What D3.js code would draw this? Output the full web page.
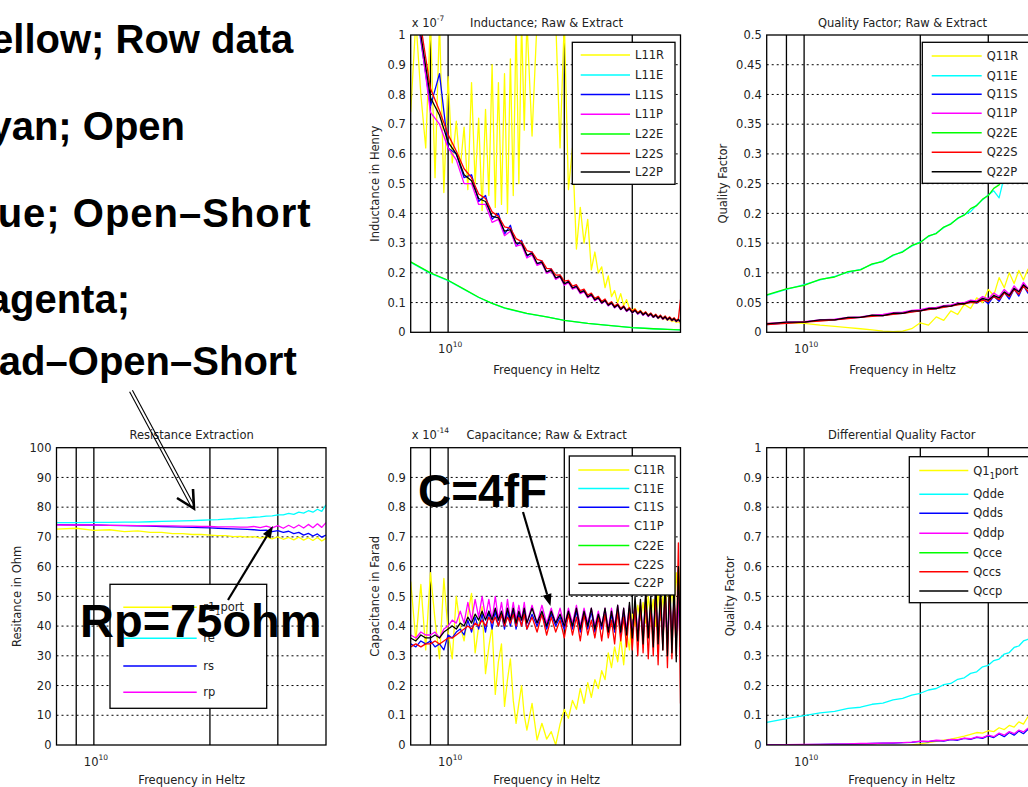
<!DOCTYPE html>
<html>
<head>
<meta charset="utf-8">
<script src="https://cdn.jsdelivr.net/npm/d3@7"></script>
<style>
  body { margin: 0; background: #fff; }
  svg text { font-family: "DejaVu Sans", sans-serif; }
  .big { font-family: "Liberation Sans", Arial, sans-serif; font-weight: bold; }
</style>
</head>
<body>
<svg id="slide" width="1028" height="787"></svg>
<script>
// ---------------- data (frequency in GHz) ----------------
var freqFine = [8, 8.25, 8.5, 8.75, 9, 9.25, 9.5, 9.75, 10, 10.25, 10.5, 10.75, 11, 11.25, 11.5, 11.75,
  12, 12.25, 12.5, 12.75, 13, 13.25, 13.5, 13.75, 14, 14.25, 14.5, 14.75, 15, 15.25, 15.5, 15.75, 16,
  16.5, 17, 17.5, 18, 18.5, 19, 19.5, 20, 20.5, 21, 21.5, 22, 22.5, 23, 23.5, 24, 24.5, 25, 25.5,
  26, 26.5, 27, 27.5, 28, 28.5, 29, 29.5, 30, 30.5, 31, 31.5, 32, 32.5, 33, 33.5, 34, 34.5, 35, 35.5,
  36, 36.5, 37, 37.5, 38, 38.5, 39, 39.5, 40];
var freqHalf = [8, 8.5, 9, 9.5, 10, 10.5, 11, 11.5, 12, 12.5, 13, 13.5, 14, 14.5, 15, 15.5, 16, 16.5,
  17, 17.5, 18, 18.5, 19, 19.5, 20, 20.5, 21, 21.5, 22, 22.5, 23, 23.5, 24, 24.5, 25, 25.5, 26, 26.5,
  27, 27.5, 28, 28.5, 29, 29.5, 30, 30.5, 31, 31.5, 32, 32.5, 33, 33.5, 34, 34.5, 35, 35.5, 36, 36.5,
  37, 37.5, 38, 38.5, 39, 39.5, 40];
var freqStep = [8, 9, 10, 11, 12, 13, 14, 15, 16, 17, 18, 19, 20, 21, 22, 23, 24, 25, 26, 27, 28, 29,
  30, 31, 32, 33, 34, 35, 36, 37, 38, 39, 40];
var freqSmooth = [8, 9, 10, 11, 12, 13, 14, 16, 18, 20, 23, 26, 30, 34, 37, 40];

// Inductance (x 1e-7 H)
var l11r = [0.74, 1.05, 0.80, 0.62, 1.05, 0.52, 1.05, 0.47, 0.86, 0.57, 0.71, 0.55, 0.69, 0.48, 0.84, 0.50,
  0.72, 0.41, 0.75, 0.46, 0.90, 0.42, 0.84, 0.43, 0.87, 0.40, 0.92, 0.46, 1.05, 0.50, 1.05, 0.68, 1.05,
  0.66, 1.05, 1.05, 1.05, 1.05, 1.05, 0.62, 1.05, 0.48, 0.62, 0.28, 0.42, 0.30, 0.38, 0.21, 0.27, 0.20,
  0.22, 0.15, 0.19, 0.12, 0.14, 0.10, 0.13, 0.09, 0.11, 0.08, 0.075, 0.08, 0.065, 0.074, 0.06, 0.067,
  0.055, 0.062, 0.05, 0.056, 0.046, 0.051, 0.043, 0.047, 0.04, 0.043, 0.036, 0.04, 0.033, 0.036, 0.03];
var l11e = [0.235, 0.198, 0.174, 0.144, 0.117, 0.097, 0.081, 0.063, 0.052, 0.04, 0.03, 0.023, 0.016, 0.012, 0.01, 0.008];
var l11s = [1.22, 0.98, 0.76, 0.87, 0.62, 0.60, 0.52, 0.53, 0.44, 0.46, 0.38, 0.40, 0.33, 0.36, 0.29, 0.31,
  0.255, 0.27, 0.228, 0.24, 0.20, 0.213, 0.18, 0.192, 0.16, 0.173, 0.147, 0.157, 0.132, 0.142, 0.118, 0.129,
  0.108, 0.118, 0.098, 0.108, 0.09, 0.1, 0.083, 0.093, 0.077, 0.087, 0.071, 0.08, 0.066, 0.075, 0.062, 0.07,
  0.058, 0.066, 0.055, 0.062, 0.051, 0.058, 0.048, 0.055, 0.045, 0.052, 0.042, 0.049, 0.04, 0.046, 0.037,
  0.043, 0.036];
var l11p = [1.24, 0.99, 0.74, 0.70, 0.62, 0.58, 0.50, 0.50, 0.43, 0.43, 0.37, 0.38, 0.325, 0.34, 0.29, 0.295,
  0.25, 0.26, 0.225, 0.232, 0.198, 0.206, 0.178, 0.186, 0.158, 0.167, 0.145, 0.151, 0.13, 0.137, 0.116, 0.125,
  0.106, 0.114, 0.097, 0.105, 0.089, 0.097, 0.082, 0.09, 0.076, 0.084, 0.07, 0.078, 0.065, 0.073, 0.061, 0.068,
  0.057, 0.064, 0.053, 0.06, 0.05, 0.056, 0.047, 0.053, 0.044, 0.05, 0.041, 0.047, 0.039, 0.044, 0.036,
  0.041, 0.034];
var l22e = [0.237, 0.20, 0.175, 0.145, 0.118, 0.097, 0.082, 0.064, 0.052, 0.04, 0.03, 0.023, 0.016, 0.012, 0.01, 0.008];
var l22s = [1.28, 1.03, 0.82, 0.745, 0.665, 0.61, 0.55, 0.52, 0.465, 0.45, 0.405, 0.39, 0.355, 0.35, 0.315, 0.305,
  0.275, 0.27, 0.245, 0.24, 0.215, 0.213, 0.192, 0.193, 0.172, 0.175, 0.155, 0.16, 0.14, 0.145, 0.125, 0.132,
  0.114, 0.121, 0.104, 0.112, 0.095, 0.103, 0.088, 0.096, 0.081, 0.089, 0.075, 0.083, 0.07, 0.078, 0.066, 0.073,
  0.062, 0.069, 0.058, 0.065, 0.054, 0.061, 0.051, 0.058, 0.048, 0.055, 0.045, 0.052, 0.043, 0.049, 0.04,
  0.046, 0.11];
var l22p = [1.25, 1.0, 0.79, 0.73, 0.64, 0.60, 0.53, 0.51, 0.45, 0.44, 0.39, 0.385, 0.34, 0.345, 0.30, 0.30,
  0.26, 0.265, 0.232, 0.235, 0.203, 0.209, 0.183, 0.188, 0.163, 0.17, 0.149, 0.154, 0.134, 0.139, 0.119, 0.127,
  0.109, 0.116, 0.099, 0.107, 0.091, 0.099, 0.084, 0.092, 0.077, 0.086, 0.072, 0.079, 0.066, 0.074, 0.063, 0.07,
  0.059, 0.066, 0.055, 0.062, 0.051, 0.058, 0.048, 0.055, 0.045, 0.052, 0.042, 0.049, 0.04, 0.046, 0.037,
  0.043, 0.035];

// Quality factor
var q11r = [0.015, 0.016, 0.015, 0.012, 0.010, 0.008, 0.006, 0.004, 0.002, 0.001, 0.002, 0.006, 0.016, 0.012,
  0.026, 0.020, 0.036, 0.030, 0.047, 0.040, 0.058, 0.050, 0.072, 0.062, 0.092, 0.075, 0.100, 0.082, 0.104,
  0.088, 0.106, 0.092, 0.10];
var q11e = [0.062, 0.072, 0.080, 0.088, 0.094, 0.101, 0.106, 0.114, 0.120, 0.129, 0.136, 0.145, 0.152, 0.161,
  0.167, 0.176, 0.183, 0.191, 0.198, 0.203, 0.214, 0.223, 0.231, 0.238, 0.226, 0.262, 0.255, 0.28, 0.27,
  0.298, 0.29, 0.316, 0.31];
var q11s = [0.013, 0.016, 0.017, 0.020, 0.021, 0.024, 0.025, 0.028, 0.028, 0.031, 0.032, 0.035, 0.036, 0.039,
  0.040, 0.043, 0.044, 0.047, 0.048, 0.051, 0.049, 0.056, 0.048, 0.061, 0.052, 0.067, 0.056, 0.073, 0.061,
  0.079, 0.066, 0.085, 0.07];
var q11p = [0.015, 0.017, 0.018, 0.021, 0.022, 0.025, 0.026, 0.029, 0.030, 0.033, 0.034, 0.037, 0.038, 0.041,
  0.042, 0.045, 0.046, 0.049, 0.05, 0.054, 0.053, 0.06, 0.056, 0.066, 0.06, 0.072, 0.064, 0.078, 0.069,
  0.084, 0.074, 0.09, 0.079];
var q22e = [0.063, 0.073, 0.079, 0.089, 0.093, 0.102, 0.105, 0.115, 0.119, 0.130, 0.135, 0.146, 0.151, 0.162,
  0.166, 0.177, 0.182, 0.192, 0.197, 0.208, 0.213, 0.224, 0.230, 0.242, 0.248, 0.260, 0.266, 0.278, 0.284,
  0.296, 0.302, 0.314, 0.320];
var q22s = [0.013, 0.015, 0.017, 0.019, 0.021, 0.023, 0.025, 0.027, 0.028, 0.030, 0.032, 0.034, 0.036, 0.038,
  0.040, 0.042, 0.044, 0.046, 0.048, 0.050, 0.050, 0.054, 0.052, 0.060, 0.055, 0.066, 0.060, 0.072, 0.064,
  0.078, 0.069, 0.083, 0.074];
var q22p = [0.014, 0.017, 0.017, 0.021, 0.021, 0.025, 0.025, 0.029, 0.028, 0.032, 0.032, 0.036, 0.036, 0.040,
  0.040, 0.044, 0.044, 0.048, 0.048, 0.052, 0.051, 0.057, 0.054, 0.062, 0.058, 0.068, 0.062, 0.074, 0.068,
  0.080, 0.073, 0.086, 0.080];

// Resistance (Ohm)
var rPort = [72.6, 72.9, 72.2, 72.4, 71.8, 72.0, 71.5, 71.5, 71.1, 71.1, 70.8, 70.8, 70.6, 70.4, 70.4, 70.1,
  70.2, 69.9, 70.1, 69.6, 70.0, 69.3, 70.0, 69.2, 69.8, 69.0, 69.9, 68.9, 69.7, 68.8, 69.8, 68.6, 69.5];
var rE = [74.8, 74.8, 74.9, 74.9, 75.0, 75.0, 75.1, 75.2, 75.3, 75.4, 75.5, 75.6, 75.7, 75.8, 76.0, 76.1,
  76.3, 76.4, 76.6, 76.7, 77.0, 77.1, 77.4, 77.4, 77.9, 77.6, 78.3, 78.0, 78.8, 78.3, 79.3, 78.6, 80.8];
var rS = [74.1, 74.0, 74.0, 73.9, 73.8, 73.7, 73.6, 73.5, 73.4, 73.3, 73.2, 73.1, 73.0, 72.9, 72.8, 72.7,
  72.6, 72.5, 72.4, 72.2, 72.3, 71.8, 72.1, 71.5, 71.9, 71.1, 71.5, 70.6, 71.2, 70.3, 71.0, 69.9, 70.6];
var rP = [74.0, 74.0, 74.0, 73.9, 73.9, 73.8, 73.8, 73.7, 73.7, 73.6, 73.6, 73.5, 73.5, 73.4, 73.4, 73.4,
  73.3, 73.3, 73.5, 73.1, 73.6, 73.0, 73.8, 72.9, 73.9, 73.0, 74.0, 73.0, 74.2, 73.1, 74.4, 73.2, 74.8];

// Capacitance (x 1e-14 F)
var c11r = [0.55, 0.35, 0.54, 0.32, 0.58, 0.42, 0.29, 0.56, 0.38, 0.29, 0.50, 0.40, 0.35, 0.44, 0.51, 0.31,
  0.40, 0.465, 0.24, 0.33, 0.40, 0.17, 0.28, 0.34, 0.13, 0.22, 0.29, 0.15, 0.073, 0.14, 0.20, 0.10, 0.05,
  0.14, 0.017, 0.073, 0.02, 0.045, 0.0, 0.07, 0.12, 0.09, 0.15, 0.12, 0.19, 0.14, 0.21, 0.16, 0.22, 0.19,
  0.25, 0.22, 0.31, 0.26, 0.33, 0.28, 0.36, 0.27, 0.38, 0.32, 0.44, 0.40, 0.47, 0.42, 0.48, 0.41, 0.50,
  0.43, 0.49, 0.40, 0.52, 0.42, 0.50, 0.44, 0.55, 0.45, 0.52, 0.46, 0.58, 0.48, 0.60];
var c11e = [];
var c11s = [0.34, 0.33, 0.35, 0.34, 0.35, 0.33, 0.34, 0.32, 0.37, 0.36, 0.38, 0.39, 0.37, 0.42, 0.38, 0.43,
  0.39, 0.44, 0.38, 0.45, 0.39, 0.45, 0.40, 0.44, 0.39, 0.45, 0.40, 0.45, 0.39, 0.44, 0.40, 0.45, 0.39,
  0.44, 0.40, 0.44, 0.39, 0.44, 0.40, 0.43, 0.39, 0.44, 0.39, 0.45, 0.38, 0.44, 0.39, 0.45, 0.38, 0.43,
  0.39, 0.45, 0.38, 0.44, 0.38, 0.45, 0.37, 0.44, 0.38, 0.45, 0.37, 0.47, 0.36, 0.46, 0.36, 0.48, 0.37,
  0.46, 0.36, 0.49, 0.36, 0.48, 0.35, 0.50, 0.34, 0.49, 0.36, 0.48, 0.35, 0.50, 0.30];
var c11p = [0.37, 0.36, 0.38, 0.37, 0.37, 0.38, 0.36, 0.39, 0.40, 0.42, 0.41, 0.45, 0.41, 0.48, 0.42, 0.49,
  0.43, 0.50, 0.43, 0.49, 0.42, 0.50, 0.42, 0.48, 0.41, 0.49, 0.42, 0.48, 0.42, 0.47, 0.42, 0.48, 0.41,
  0.47, 0.41, 0.47, 0.41, 0.46, 0.41, 0.46, 0.40, 0.46, 0.41, 0.47, 0.40, 0.46, 0.41, 0.46, 0.40, 0.45,
  0.40, 0.46, 0.39, 0.46, 0.40, 0.47, 0.39, 0.46, 0.39, 0.47, 0.38, 0.48, 0.38, 0.47, 0.37, 0.49, 0.38,
  0.47, 0.37, 0.50, 0.37, 0.49, 0.36, 0.51, 0.35, 0.50, 0.37, 0.49, 0.36, 0.52, 0.28];
var c22e = [];
var c22s = [0.33, 0.34, 0.33, 0.34, 0.34, 0.35, 0.34, 0.35, 0.36, 0.36, 0.37, 0.38, 0.39, 0.40, 0.39, 0.41,
  0.40, 0.42, 0.40, 0.43, 0.41, 0.43, 0.40, 0.44, 0.40, 0.43, 0.41, 0.44, 0.40, 0.43, 0.40, 0.44, 0.39,
  0.43, 0.38, 0.44, 0.37, 0.43, 0.38, 0.42, 0.36, 0.44, 0.37, 0.43, 0.35, 0.44, 0.37, 0.42, 0.36, 0.43,
  0.35, 0.44, 0.36, 0.42, 0.34, 0.45, 0.35, 0.43, 0.33, 0.46, 0.32, 0.47, 0.30, 0.48, 0.31, 0.50, 0.29,
  0.47, 0.30, 0.52, 0.27, 0.50, 0.32, 0.53, 0.26, 0.55, 0.29, 0.50, 0.30, 0.68, 0.14];
var c22p = [0.36, 0.35, 0.37, 0.36, 0.36, 0.37, 0.36, 0.38, 0.39, 0.40, 0.39, 0.41, 0.40, 0.43, 0.41, 0.44,
  0.42, 0.45, 0.42, 0.45, 0.42, 0.46, 0.42, 0.45, 0.41, 0.46, 0.42, 0.46, 0.41, 0.45, 0.42, 0.46, 0.41,
  0.46, 0.41, 0.45, 0.40, 0.45, 0.41, 0.44, 0.40, 0.45, 0.40, 0.46, 0.39, 0.45, 0.40, 0.46, 0.39, 0.44,
  0.40, 0.46, 0.38, 0.45, 0.39, 0.47, 0.38, 0.46, 0.37, 0.48, 0.36, 0.50, 0.35, 0.49, 0.34, 0.52, 0.36,
  0.50, 0.33, 0.55, 0.34, 0.53, 0.32, 0.56, 0.30, 0.58, 0.31, 0.55, 0.28, 0.60, 0.33];

// Differential quality factor
var q1port = [-0.05, -0.045, -0.04, -0.035, -0.03, -0.025, -0.02, -0.015, -0.012, -0.008, -0.004, 0.0, 0.004,
  0.008, 0.012, 0.016, 0.02, 0.025, 0.03, 0.036, 0.042, 0.04, 0.048, 0.045, 0.058, 0.052, 0.066, 0.06,
  0.078, 0.07, 0.095, 0.085, 0.11];
var qdde = [0.076, 0.089, 0.099, 0.108, 0.113, 0.123, 0.127, 0.137, 0.141, 0.152, 0.157, 0.168, 0.174, 0.185,
  0.190, 0.203, 0.207, 0.221, 0.226, 0.241, 0.246, 0.263, 0.268, 0.284, 0.289, 0.306, 0.311, 0.328, 0.333,
  0.350, 0.355, 0.373, 0.377];
var qdds = [0.0, 0.001, 0.001, 0.002, 0.003, 0.003, 0.004, 0.005, 0.006, 0.006, 0.008, 0.009, 0.012, 0.011,
  0.015, 0.013, 0.018, 0.016, 0.022, 0.019, 0.026, 0.022, 0.031, 0.025, 0.037, 0.028, 0.042, 0.033, 0.047,
  0.038, 0.052, 0.042, 0.056];
var qddp = [0.0, 0.001, 0.002, 0.002, 0.003, 0.004, 0.005, 0.005, 0.006, 0.007, 0.008, 0.010, 0.013, 0.012,
  0.016, 0.015, 0.019, 0.018, 0.023, 0.021, 0.027, 0.025, 0.033, 0.028, 0.040, 0.033, 0.045, 0.038, 0.050,
  0.044, 0.056, 0.048, 0.06];
var qcce = [], qccs = [], qccp = [];

// matlab default line colors
var yellow = '#ffff00', cyan = '#00ffff', blue = '#0000ff', magenta = '#ff00ff',
  green = '#00ff00', red = '#ff0000', black = '#000000';

var ticks01 = [0, 0.1, 0.2, 0.3, 0.4, 0.5, 0.6, 0.7, 0.8, 0.9, 1];
var ticksQ = [0, 0.05, 0.1, 0.15, 0.2, 0.25, 0.3, 0.35, 0.4, 0.45, 0.5];
var ticksR = [0, 10, 20, 30, 40, 50, 60, 70, 80, 90, 100];
var ticksC = [0, 0.1, 0.2, 0.3, 0.4, 0.5, 0.6, 0.7, 0.8, 0.9];
var minorGrid = [9, 10, 20, 30];

var panels = [
  {
    id: 'ind', left: 410.7, right: 680.5, top: 35, bottom: 332.3, yMax: 1, yTicks: ticks01, xlabelY: 373.8,
    title: 'Inductance; Raw & Extract', titleX: 546.5, exponent: '-7', ylabel: 'Inductance in Henry', ylabelX: 375,
    legend: {x: 572.3, y: 42.3, w: 102.7, h: 142, rows: [55, 75, 94.5, 114.3, 134, 153.5, 172], lx1: 580.7, lx2: 630, tx: 635},
    series: [
      {name: 'L11R', color: yellow, f: freqFine, v: l11r},
      {name: 'L11E', color: cyan, f: freqSmooth, v: l11e},
      {name: 'L11S', color: blue, f: freqHalf, v: l11s},
      {name: 'L11P', color: magenta, f: freqHalf, v: l11p},
      {name: 'L22E', color: green, f: freqSmooth, v: l22e},
      {name: 'L22S', color: red, f: freqHalf, v: l22s},
      {name: 'L22P', color: black, f: freqHalf, v: l22p}
    ]
  },
  {
    id: 'qf', left: 766.7, right: 1036.5, top: 35, bottom: 332.3, yMax: 0.5, yTicks: ticksQ, xlabelY: 373.8,
    title: 'Quality Factor; Raw & Extract', titleX: 902.5, ylabel: 'Quality Factor', ylabelX: 723,
    legend: {x: 922.3, y: 42.3, w: 130, h: 141, rows: [56, 75.7, 94.3, 113.3, 132.7, 152.3, 171.7], lx1: 931.7, lx2: 981.7, tx: 986.7},
    series: [
      {name: 'Q11R', color: yellow, f: freqStep, v: q11r},
      {name: 'Q11E', color: cyan, f: freqStep, v: q11e},
      {name: 'Q11S', color: blue, f: freqStep, v: q11s},
      {name: 'Q11P', color: magenta, f: freqStep, v: q11p},
      {name: 'Q22E', color: green, f: freqStep, v: q22e},
      {name: 'Q22S', color: red, f: freqStep, v: q22s},
      {name: 'Q22P', color: black, f: freqStep, v: q22p}
    ]
  },
  {
    id: 'res', left: 56.5, right: 326, top: 447.7, bottom: 745, yMax: 100, yTicks: ticksR, xlabelY: 783.5,
    title: 'Resistance Extraction', titleX: 191.7, ylabel: 'Resitance in Ohm', ylabelX: 17,
    legend: {x: 110, y: 584.3, w: 156.7, h: 124, rows: [607.3, 638.3, 666, 692.3], lx1: 123.3, lx2: 196.7, tx: 203.3},
    series: [
      {name: 'r1', sub: '1', tail: 'port', color: yellow, f: freqStep, v: rPort},
      {name: 're', color: cyan, f: freqStep, v: rE},
      {name: 'rs', color: blue, f: freqStep, v: rS},
      {name: 'rp', color: magenta, f: freqStep, v: rP}
    ]
  },
  {
    id: 'cap', left: 410.7, right: 680.5, top: 447.7, bottom: 745, yMax: 1, yTicks: ticksC, xlabelY: 783.5,
    title: 'Capacitance; Raw & Extract', titleX: 546.7, exponent: '-14', ylabel: 'Capacitance in Farad', ylabelX: 375,
    legend: {x: 569.3, y: 456, w: 105.7, h: 139, rows: [470, 488.6, 507.3, 526, 545.5, 564.5, 583.3], lx1: 578.3, lx2: 629.3, tx: 634},
    series: [
      {name: 'C11R', color: yellow, f: freqFine, v: c11r},
      {name: 'C11E', color: cyan, f: freqFine, v: c11e},
      {name: 'C11S', color: blue, f: freqFine, v: c11s},
      {name: 'C11P', color: magenta, f: freqFine, v: c11p},
      {name: 'C22E', color: green, f: freqFine, v: c22e},
      {name: 'C22S', color: red, f: freqFine, v: c22s},
      {name: 'C22P', color: black, f: freqFine, v: c22p}
    ]
  },
  {
    id: 'dq', left: 766.7, right: 1036.5, top: 447.7, bottom: 745, yMax: 1, yTicks: ticks01, xlabelY: 783.5,
    title: 'Differential Quality Factor', titleX: 901.7, ylabel: 'Quality Factor', ylabelX: 730,
    legend: {x: 909.3, y: 456.7, w: 140, h: 146, rows: [470.5, 494.3, 513.3, 533.3, 552.7, 571.7, 591], lx1: 919.3, lx2: 968.3, tx: 973.3},
    series: [
      {name: 'Q1', sub: '1', tail: 'port', color: yellow, f: freqStep, v: q1port},
      {name: 'Qdde', color: cyan, f: freqStep, v: qdde},
      {name: 'Qdds', color: blue, f: freqStep, v: qdds},
      {name: 'Qddp', color: magenta, f: freqStep, v: qddp},
      {name: 'Qcce', color: green, f: freqStep, v: qcce},
      {name: 'Qccs', color: red, f: freqStep, v: qccs},
      {name: 'Qccp', color: black, f: freqStep, v: qccp}
    ]
  }
];

var svg = d3.select('#slide');
var textColor = '#222';

function drawPanel(p) {
  var g = svg.append('g').attr('id', 'panel-' + p.id);
  var x = d3.scaleLog().domain([8, 40]).range([p.left, p.right]);
  var y = d3.scaleLinear().domain([0, p.yMax]).range([p.bottom, p.top]);

  svg.append('clipPath').attr('id', 'clip-' + p.id)
    .append('rect')
    .attr('x', p.left).attr('y', p.top)
    .attr('width', p.right - p.left).attr('height', p.bottom - p.top);

  // dotted horizontal grid
  g.selectAll('line.hgrid')
    .data(p.yTicks.filter(function (t) { return t > 0 && t < p.yMax; }))
    .enter().append('line')
    .attr('class', 'hgrid')
    .attr('x1', p.left).attr('x2', p.right)
    .attr('y1', function (d) { return y(d); }).attr('y2', function (d) { return y(d); })
    .attr('stroke', '#000').attr('stroke-width', 1).attr('stroke-dasharray', '2,3');

  // solid lines at the log grid
  g.selectAll('line.vgrid')
    .data(minorGrid)
    .enter().append('line')
    .attr('class', 'vgrid')
    .attr('x1', function (d) { return x(d); }).attr('x2', function (d) { return x(d); })
    .attr('y1', p.top).attr('y2', p.bottom)
    .attr('stroke', '#000').attr('stroke-width', 1.3);

  // series
  var line = d3.line()
    .x(function (d) { return x(d[0]); })
    .y(function (d) { return y(d[1]); });
  g.append('g').attr('clip-path', 'url(#clip-' + p.id + ')')
    .selectAll('path')
    .data(p.series.filter(function (s) { return s.v.length > 0; }))
    .enter().append('path')
    .attr('d', function (s) { return line(d3.zip(s.f, s.v)); })
    .attr('fill', 'none')
    .attr('stroke', function (s) { return s.color; })
    .attr('stroke-width', 1.3)
    .attr('stroke-linejoin', 'round');

  // frame
  g.append('rect')
    .attr('x', p.left).attr('y', p.top)
    .attr('width', p.right - p.left).attr('height', p.bottom - p.top)
    .attr('fill', 'none').attr('stroke', '#000').attr('stroke-width', 1.3);

  // y tick labels
  var yAxis = d3.axisLeft(y).tickValues(p.yTicks).tickSize(0).tickPadding(5)
    .tickFormat(function (d) { return String(d); });
  var ga = g.append('g').attr('transform', 'translate(' + p.left + ',0)').call(yAxis);
  ga.select('.domain').remove();
  ga.attr('font-family', 'DejaVu Sans').attr('font-size', 11.5);
  ga.selectAll('text').attr('fill', textColor);

  // x axis: only the 10^10 label
  var xt = g.append('text')
    .attr('x', x(10) - 10).attr('y', p.bottom + 20.5)
    .attr('font-size', 11.5).attr('fill', textColor);
  xt.append('tspan').text('10');
  xt.append('tspan').attr('font-size', 7.5).attr('dy', -6).text('10');

  g.append('text')
    .attr('x', p.titleX).attr('y', p.xlabelY)
    .attr('text-anchor', 'middle').attr('font-size', 11.5).attr('fill', textColor)
    .text('Frequency in Heltz');

  // title
  g.append('text')
    .attr('x', p.titleX).attr('y', p.top - 8.5)
    .attr('text-anchor', 'middle').attr('font-size', 11.5).attr('fill', textColor)
    .text(p.title);

  if (p.exponent) {
    var ex = g.append('text')
      .attr('x', p.left + 1).attr('y', p.top - 8.5)
      .attr('font-size', 11.5).attr('fill', textColor);
    ex.append('tspan').text('x 10');
    ex.append('tspan').attr('font-size', 7.5).attr('dy', -6).text(p.exponent);
  }

  // y label
  g.append('text')
    .attr('transform', 'translate(' + p.ylabelX + ',' + ((p.top + p.bottom) / 2) + ') rotate(-90)')
    .attr('text-anchor', 'middle').attr('dy', '0.35em')
    .attr('font-size', 11.5).attr('fill', textColor)
    .text(p.ylabel);

  // legend
  var L = p.legend;
  g.append('rect')
    .attr('x', L.x).attr('y', L.y).attr('width', L.w).attr('height', L.h)
    .attr('fill', '#fff').attr('stroke', '#000').attr('stroke-width', 1.3);
  var rows = g.selectAll('g.legrow')
    .data(p.series)
    .enter().append('g')
    .attr('class', 'legrow')
    .attr('transform', function (s, i) { return 'translate(0,' + L.rows[i] + ')'; });
  rows.append('line')
    .attr('x1', L.lx1).attr('x2', L.lx2)
    .attr('stroke', function (s) { return s.color; }).attr('stroke-width', 1.5);
  var lt = rows.append('text')
    .attr('x', L.tx).attr('dy', '0.36em')
    .attr('font-size', 11.5).attr('fill', textColor);
  lt.append('tspan').text(function (s) { return s.name; });
  lt.filter(function (s) { return s.sub; }).each(function (s) {
    var t = d3.select(this);
    t.append('tspan').attr('font-size', 8).attr('dy', 4).text(s.sub);
    t.append('tspan').attr('dy', -4).text(s.tail);
  });
}

panels.forEach(drawPanel);

// ---------------- slide annotations ----------------
var noteTexts = ['Yellow; Row data', 'Cyan; Open', 'Blue; Open\u2013Short', 'Magenta;', 'Pad\u2013Open\u2013Short'];
// right end / baseline of each line (the slide text is cut by the left edge)
var noteLayout = [[293.3, 52.7, 0], [185, 140, 0], [311.7, 226.7, 1], [130, 313, 0], [296.7, 375, 0]];

svg.selectAll('text.note')
  .data(noteTexts)
  .enter().append('text')
  .attr('class', 'note big')
  .attr('x', function (d, i) { return noteLayout[i][0]; })
  .attr('y', function (d, i) { return noteLayout[i][1]; })
  .attr('letter-spacing', function (d, i) { return noteLayout[i][2]; })
  .attr('text-anchor', 'end')
  .attr('font-size', 40)
  .attr('fill', '#000')
  .text(function (d) { return d; });

// double-line open arrow
var dbl = svg.append('g').attr('stroke', '#000').attr('fill', 'none');
dbl.append('line').attr('x1', 132.4).attr('y1', 390.2).attr('x2', 193.2).attr('y2', 503.6).attr('stroke-width', 1.1);
dbl.append('line').attr('x1', 129.6).attr('y1', 391.8).attr('x2', 190.4).attr('y2', 505.2).attr('stroke-width', 1.1);
dbl.append('polyline').attr('points', '177,498 194,508.5 193,489').attr('stroke-width', 2.6)
  .attr('stroke-linejoin', 'miter');

function arrow(x1, y1, x2, y2) {
  var dx = x2 - x1, dy = y2 - y1, len = Math.sqrt(dx * dx + dy * dy);
  var ux = dx / len, uy = dy / len, hl = 12, hw = 4.5;
  var bx = x2 - ux * hl, by = y2 - uy * hl;
  svg.append('line').attr('x1', x1).attr('y1', y1).attr('x2', bx).attr('y2', by)
    .attr('stroke', '#000').attr('stroke-width', 2.2);
  svg.append('polygon')
    .attr('points', [[x2, y2], [bx - uy * hw, by + ux * hw], [bx + uy * hw, by - ux * hw]].join(' '))
    .attr('fill', '#000');
}
arrow(228, 600, 273, 526);
arrow(523, 512, 550.5, 606);

svg.append('text').attr('class', 'big').attr('x', 80).attr('y', 636.7)
  .attr('font-size', 47).attr('fill', '#000').text('Rp=75ohm');
svg.append('text').attr('class', 'big').attr('x', 418).attr('y', 506.7)
  .attr('font-size', 46).attr('fill', '#000').text('C=4fF');
</script>
</body>
</html>
